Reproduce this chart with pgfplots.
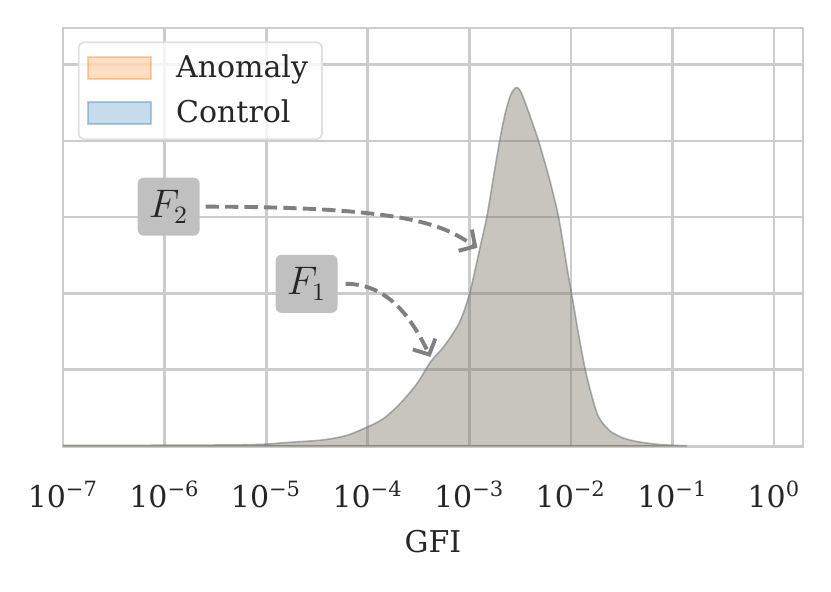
\documentclass[border=0pt]{standalone}
\usepackage{fontspec}
\setmainfont{DejaVu Serif}
\usepackage{pgfplots}
\pgfplotsset{compat=1.18}
\usetikzlibrary{arrows.meta}
\definecolor{taborange}{RGB}{255,127,14}
\definecolor{tabblue}{RGB}{31,119,180}
\definecolor{gridgray}{RGB}{204,204,204}
\definecolor{txt}{RGB}{38,38,38}
\definecolor{boxgray}{RGB}{192,192,192}
\newcommand{\mainfs}{\fontsize{10.8bp}{13bp}\selectfont}
\newcommand{\tsup}[1]{\textsuperscript{#1}}

\pgfplotstableread{
lx y
-7.00 0.006
-6.50 0.007
-6.00 0.008
-5.50 0.011
-5.20 0.015
-5.00 0.022
-4.85 0.038
-4.70 0.052
-4.55 0.065
-4.40 0.085
-4.20 0.14
-4.00 0.25
-3.843 0.36
-3.678 0.56
-3.514 0.82
-3.383 1.10
-3.253 1.30
-3.121 1.56
-3.060 1.74
-2.997 2.00
-2.945 2.30
-2.892 2.62
-2.826 3.02
-2.767 3.49
-2.702 4.00
-2.646 4.37
-2.597 4.59
-2.565 4.67
-2.535 4.70
-2.505 4.67
-2.470 4.57
-2.417 4.38
-2.319 4.00
-2.210 3.49
-2.122 3.00
-2.039 2.34
-2.000 2.04
-1.968 1.80
-1.930 1.50
-1.859 1.00
-1.800 0.68
-1.744 0.43
-1.700 0.32
-1.650 0.24
-1.600 0.18
-1.500 0.11
-1.400 0.07
-1.300 0.045
-1.150 0.02
-1.000 0.008
-0.860 0.00
}\gfi

\begin{document}
\begin{tikzpicture}[font=\mainfs]
\begin{axis}[
  scale only axis,
  width=266.4bp, height=150.7bp,
  xmin=-7.0, xmax=0.284,
  ymin=-0.01, ymax=5.48,
  xtick={-7,-6,-5,-4,-3,-2,-1,0},
  xticklabels={10\tsup{−7},10\tsup{−6},10\tsup{−5},10\tsup{−4},10\tsup{−3},10\tsup{−2},10\tsup{−1},10\tsup{0}},
  ytick={0,1,2,3,4,5},
  yticklabels={},
  major tick length=0pt,
  grid=major,
  major grid style={gridgray, line width=0.95bp},
  axis line style={gridgray, line width=0.95bp},
  tick label style={font=\mainfs, text=txt},
  xticklabel style={anchor=base},
  xticklabel shift=22bp,
  xlabel={GFI},
  xlabel style={font=\mainfs, text=txt, at={(axis description cs:0.5,-0.254)}, anchor=base},
  legend cell align=left,
  legend image code/.code={\draw[#1, line width=0.6bp, sharp corners] (0bp,-4bp) rectangle (22.7bp,4bp);},
  legend style={at={(0.02,0.968)}, anchor=north west, draw=black!12, line width=0.6bp,
    rounded corners=1.8bp, fill=white, fill opacity=0.8, text opacity=1, text=txt,
    font=\mainfs, row sep=2.5bp, inner xsep=3bp, inner ysep=2.5bp,
    /tikz/every odd column/.append style={column sep=6.8bp}},
]
\addplot[fill=taborange, fill opacity=0.25, draw=taborange, draw opacity=0.35, line width=0.55bp, smooth, tension=0.5]
  table[x=lx, y=y] {\gfi} \closedcycle;
\addlegendentry{Anomaly}
\addplot[fill=tabblue, fill opacity=0.25, draw=tabblue, draw opacity=0.35, line width=0.55bp, smooth, tension=0.5]
  table[x=lx, y=y] {\gfi} \closedcycle;
\addlegendentry{Control}

\node[fill=boxgray, rounded corners=2.2bp, minimum width=22.3bp, minimum height=20.9bp, inner sep=0pt,
  font=\fontsize{13.2bp}{15bp}\selectfont, text=txt] at (axis cs:-5.960,3.137) {$F_2$};
\node[fill=boxgray, rounded corners=2.2bp, minimum width=22.3bp, minimum height=20.9bp, inner sep=0pt,
  font=\fontsize{13.2bp}{15bp}\selectfont, text=txt] at (axis cs:-4.603,2.125) {$F_1$};
\draw[black!50, line width=1.4bp, dash pattern=on 4.8bp off 2.2bp, -{Straight Barb[length=4.2bp,width=9bp]}]
  (axis cs:-5.597,3.137) .. controls (axis cs:-3.482,3.137) and (axis cs:-3.236,2.860) .. (axis cs:-2.921,2.598);
\draw[black!50, line width=1.4bp, dash pattern=on 4.8bp off 2.2bp, -{Straight Barb[length=4.2bp,width=9bp]}]
  (axis cs:-4.219,2.125) .. controls (axis cs:-3.777,2.125) and (axis cs:-3.551,1.625) .. (axis cs:-3.384,1.166);
\end{axis}
\pgfresetboundingbox
\path[use as bounding box] ([shift={(-22.7bp,-52.2bp)}]current axis.south west) rectangle ([shift={(10.1bp,10.1bp)}]current axis.north east);
\end{tikzpicture}
\end{document}
